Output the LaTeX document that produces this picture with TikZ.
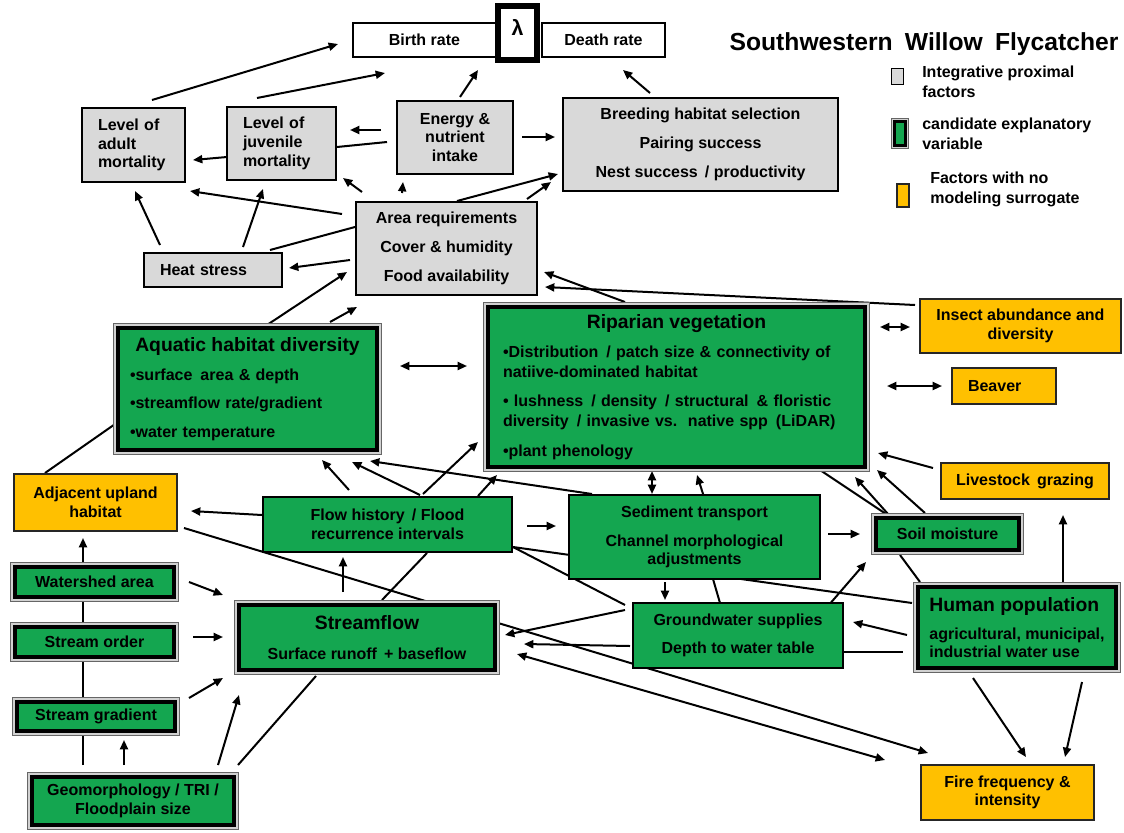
\documentclass[tikz,border=0pt]{standalone}
\usepackage{fontspec}
\setmainfont{Liberation Sans}
\usetikzlibrary{arrows.meta,backgrounds}
\definecolor{vgreen}{RGB}{20,166,80}
\definecolor{vorange}{RGB}{255,192,0}
\definecolor{vgray}{RGB}{217,217,217}
\begin{document}
\begin{tikzpicture}[x=0.75pt,y=-0.75pt,
  every node/.style={font=\bfseries\fontsize{12}{14}\selectfont, inner sep=0pt, text=black},
  sz/.style 2 args={minimum width=#1*0.75pt, minimum height=#2*0.75pt},
  tw/.style={text width=#1*0.75pt},
  prox/.style={draw=black, line width=1.5pt, fill=vgray},
  rate/.style={draw=black, line width=2.2pt, fill=white},
  nosur/.style={draw=black!85, line width=1.5pt, fill=vorange},
  proc/.style={draw=black, line width=1.5pt, fill=vgreen},
  cand/.style={fill=vgreen, draw=black, line width=3.4pt,
    preaction={draw=black!60, line width=7.8pt},
    preaction={draw=black!18, line width=6.4pt}},
  keytxt/.style={anchor=west, align=left, font=\bfseries\fontsize{12}{15}\selectfont},
  conn/.style={line width=1.5pt},
  arr/.style={conn, -{Triangle[length=7pt,width=6pt]}},
  darr/.style={conn, {Triangle[length=7pt,width=6pt]}-{Triangle[length=7pt,width=6pt]}}
]
\useasboundingbox (0,0) rectangle (1124,832);

% ---------- population level ----------
\node[rate, sz={143}{34}] (birth) at (424.5,40) {Birth rate};
\node[rate, sz={123}{34}] (death) at (603.5,40) {Death rate};
\node[rate, line width=4.5pt, sz={39}{54}, text depth=8.5pt,
      font=\bfseries\fontsize{16}{16}\selectfont] (lambda) at (517.5,33) {λ};

% ---------- title and key ----------
\node[anchor=base, font=\bfseries\fontsize{18.5}{22}\selectfont] (title) at (924,50)
  {Southwestern\hspace{4pt} Willow\hspace{4pt} Flycatcher};
\node[prox, line width=1.3pt, sz={12}{16}] (keyprox) at (897.5,76.5) {};
\node[fill=vgreen, draw=black, line width=2.4pt,
      preaction={draw=black!60, line width=5.4pt},
      preaction={draw=black!18, line width=4.4pt}, sz={11}{24}] (keycand) at (900,133.5) {};
\node[nosur, sz={12}{23}] (keynosur) at (903,195.5) {};
\node[keytxt] (keyproxtxt) at (922,82) {Integrative proximal\\factors};
\node[keytxt] (keycandtxt) at (922,134) {candidate explanatory\\variable};
\node[keytxt] (keynosurtxt) at (930,189) {Factors with no\\modeling surrogate};

% ---------- integrative proximal factors ----------
\node[prox, sz={103}{74}, tw=71, align=left] (adult) at (133.5,145) {Level of\\adult\\mortality};
\node[prox, sz={109}{73}, tw=77, align=left] (juvenile) at (281.5,143.5) {Level of\\juvenile\\mortality};
\node[prox, sz={116}{73}, align=center] (energy) at (455,137.5) {Energy \&\\nutrient\\intake};
\node[prox, sz={275}{93}, align=center] (breeding) at (700.5,144.5)
  {Breeding habitat selection\\[7.5pt]Pairing success\\[7.5pt]Nest success\, / productivity};
\node[prox, sz={181}{93}, align=center] (area) at (446.5,248.5)
  {Area requirements\\[7.5pt]Cover \& humidity\\[7.5pt]Food availability};
\node[prox, sz={138}{34}, tw=106, align=left] (heat) at (213,270) {Heat stress};

% ---------- candidate explanatory variables ----------
\node[cand, sz={259}{122}, tw=235, align=left] (aquatic) at (247.5,389)
  {\makebox[176.25pt][c]{\fontsize{14.5}{17}\selectfont Aquatic habitat diversity}\\[7.5pt]
   •surface\, area \& depth\\[7.5pt]•streamflow rate/gradient\\[7.5pt]•water temperature};
\node[cand, sz={377}{160}, tw=347, align=left, font=\bfseries\fontsize{12}{15}\selectfont] (riparian) at (676.5,387)
  {\makebox[260.25pt][c]{\fontsize{14.5}{17}\selectfont Riparian vegetation}\\[7pt]
   •Distribution\, / patch size \& connectivity of\\natiive-dominated habitat\\[7pt]
   • lushness\, / density\, / structural\, \& floristic\\diversity\, / invasive vs.\, native spp\, (LiDAR)\\[7pt]
   •plant phenology};
\node[cand, sz={143}{32}] (soil) at (947.5,534) {Soil moisture};
\node[cand, sz={159}{30}] (watershed) at (94.5,582) {Watershed area};
\node[cand, sz={159}{30}] (order) at (94.5,642) {Stream order};
\node[cand, sz={158}{29}] (gradient) at (96,716.5) {Stream gradient};
\node[cand, sz={202}{48}, align=center] (geomorph) at (133,801) {Geomorphology / TRI /\\Floodplain size};
\node[cand, sz={256}{65}, align=center] (streamflow) at (367,637.5)
  {{\fontsize{14.5}{17}\selectfont Streamflow}\\[9pt]Surface runoff\, + baseflow};
\node[cand, sz={198}{81}, align=left] (human) at (1017,627.5)
  {{\fontsize{14.5}{17}\selectfont Human population}\\[7pt]agricultural, municipal,\\industrial water use};

% ---------- hydrologic processes ----------
\node[proc, sz={249}{55}, align=center] (flow) at (387.5,524.5) {Flow history\, / Flood\\recurrence intervals};
\node[proc, sz={251}{84}, align=center] (sediment) at (694.5,537)
  {Sediment transport\\[7.5pt]Channel morphological\\adjustments};
\node[proc, sz={210}{65}, align=center] (groundwater) at (738,635.5)
  {Groundwater supplies\\[7pt]Depth to water table};

% ---------- factors with no modeling surrogate ----------
\node[nosur, sz={201}{54}, align=center] (insect) at (1020.5,326) {Insect abundance and\\diversity};
\node[nosur, sz={104}{36}, tw=72, align=left] (beaver) at (1004,386) {Beaver};
\node[nosur, sz={168}{36}] (livestock) at (1025,481) {Livestock\, grazing};
\node[nosur, sz={163}{57}, align=center] (adjacent) at (95.5,502.5) {Adjacent upland\\habitat};
\node[nosur, sz={173}{55}, align=center] (fire) at (1007.5,792.5) {Fire frequency \&\\intensity};

% ---------- connectors ----------
\begin{pgfonlayer}{background}
\fill[white] (0,0) rectangle (1124,832);
% to birth and death rates
\draw[arr] (152,100) -- (338,44);   % adult -> birth
\draw[arr] (257,98) -- (385,73);    % juvenile -> birth
\draw[arr] (460,97) -- (478,70);    % energy -> birth
\draw[arr] (650,93) -- (623,70);    % breeding -> death
% among the proximal factors
\draw[arr] (381,130) -- (350,130);  % energy -> juvenile
\draw[conn] (337,147) -- (387,142);
\draw[arr] (227,157) -- (193,160);  % juvenile -> adult
\draw[arr] (522,137) -- (555,137);  % energy -> breeding
\draw[arr] (362,192) -- (343,178);  % area -> juvenile
\draw[arr] (402,193) -- (403,182);  % area -> energy
\draw[arr] (342,214) -- (190,191);  % area -> adult
\draw[arr] (457,201) -- (558,174);  % area -> breeding
\draw[arr] (527,199) -- (551,182);  % area -> breeding
\draw[arr] (160,245) -- (135,191);  % heat -> adult
\draw[arr] (243,247) -- (263,189);  % heat -> juvenile
\draw[conn] (270,250) -- (355,227);
\draw[arr] (350,260) -- (289,268);  % area -> heat
% into area requirements
\draw[arr] (267,325) -- (347,272);  % aquatic -> area
\draw[arr] (330,322) -- (357,307);
\draw[arr] (625,302) -- (544,272);  % riparian -> area
\draw[arr] (915,305) -- (545,287);  % insect -> area
% riparian vegetation links
\draw[darr] (400,366) -- (467,366); % aquatic <-> riparian
\draw[darr] (880,327) -- (910,327); % riparian <-> insect
\draw[darr] (887,386) -- (942,386); % riparian <-> beaver
\draw[arr] (933,468) -- (878,453);  % livestock -> riparian
\draw[conn] (45,473) -- (118,422);  % adjacent -- aquatic
% flow history
\draw[arr] (349,490) -- (322,460);  % flow -> aquatic
\draw[arr] (420,495) -- (352,462);  % flow -> aquatic
\draw[arr] (592,494) -- (370,461);  % sediment -> aquatic
\draw[arr] (423,494) -- (478,442);  % flow -> riparian
\draw[arr] (478,496) -- (497,475);  % flow -> riparian
\draw[conn] (382,600) -- (427,553); % streamflow -- flow
\draw[arr] (527,526) -- (556,526);  % flow -> sediment
\draw[arr] (262,515) -- (191,511);  % flow -> adjacent
\draw[arr] (343,592) -- (343,557);  % streamflow -> flow
% long links to fire
\draw[arr] (184,528) -- (928,753);  % adjacent -> fire
\draw[darr] (517,654) -- (885,760); % streamflow <-> fire
% drainage basin inputs
\draw[arr] (189,582) -- (223,595);  % watershed -> streamflow
\draw[arr] (193,637) -- (223,637);  % order -> streamflow
\draw[arr] (189,698) -- (223,678);  % gradient -> streamflow
\draw[arr] (124,765) -- (124,740);  % geomorph -> gradient
\draw[arr] (83,765) -- (83,538);    % geomorph -> adjacent
\draw[arr] (218,765) -- (239,695);  % geomorph -> streamflow
\draw[conn] (238,765) -- (316,676);
% sediment, groundwater, soil moisture
\draw[darr] (652,471) -- (652,494); % riparian <-> sediment
\draw[arr] (704,497) -- (697,475);  % sediment -> riparian
\draw[arr] (665,582) -- (665,600);  % sediment -> groundwater
\draw[conn] (720,603) -- (713,579);
\draw[arr] (828,606) -- (866,562);  % groundwater -> soil
\draw[arr] (828,534) -- (860,534);  % sediment -> soil
\draw[conn] (820,470) -- (886,514);
\draw[arr] (888,514) -- (855,477);  % soil -> riparian
\draw[arr] (925,513) -- (877,470);  % soil -> riparian
\draw[conn] (900,555) -- (920,582);
% human population
\draw[arr] (1063,582) -- (1063,515); % human -> livestock
\draw[arr] (907,635) -- (853,622);   % human -> groundwater
\draw[conn] (844,652) -- (903,652);
\draw[conn] (912,603) -- (513,547);  % human -- flow
\draw[conn] (513,547) -- (625,605);  % flow -- groundwater
\draw[arr] (625,610) -- (505,635);   % groundwater -> streamflow
\draw[arr] (630,646) -- (524,644);   % groundwater -> streamflow
\draw[arr] (973,678) -- (1026,757);  % human -> fire
\draw[arr] (1082,682) -- (1065,757); % human -> fire
\end{pgfonlayer}
\end{tikzpicture}
\end{document}
